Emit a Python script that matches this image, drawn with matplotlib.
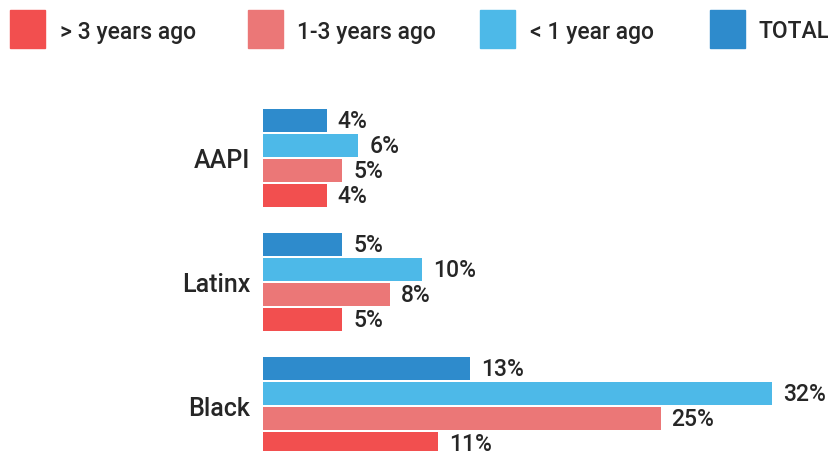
import matplotlib
matplotlib.use("Agg")
import matplotlib.pyplot as plt
from matplotlib.patches import Rectangle
import numpy as np

plt.rcParams["font.family"] = ["Roboto", "DejaVu Sans"]
plt.rcParams["font.weight"] = "medium"

groups = ["AAPI", "Latinx", "Black"]
series = ["TOTAL", "< 1 year ago", "1-3 years ago", "> 3 years ago"]
values = {
    "TOTAL": [4, 5, 13],
    "< 1 year ago": [6, 10, 32],
    "1-3 years ago": [5, 8, 25],
    "> 3 years ago": [4, 5, 11],
}
colors = {
    "TOTAL": "#2E8BCC",
    "< 1 year ago": "#4DB9E8",
    "1-3 years ago": "#EB7777",
    "> 3 years ago": "#F24F4F",
}
legend_order = ["> 3 years ago", "1-3 years ago", "< 1 year ago", "TOTAL"]

W, H = 829, 451
txt = "#262626"
fs = 16.5

fig = plt.figure(figsize=(W / 100, H / 100), dpi=100)
ax = fig.add_axes([263 / W, 0, 1 - 263 / W, 1])

step = 25 / 124
height = 23 / 124
y = np.arange(len(groups))
for k, s in enumerate(series):
    pos = y + (k - 1.5) * step
    bars = ax.barh(pos, values[s], height=height, color=colors[s])
    for b, v in zip(bars, values[s]):
        ax.annotate(f"{v}%", (b.get_width(), b.get_y() + b.get_height() / 2),
                    xytext=(8, -1), textcoords="offset points",
                    va="center", ha="left", fontsize=fs, color=txt,
                    annotation_clip=False)

ax.set_xlim(0, 566 / 15.9)
ax.set_ylim((H - 158) / 124, -158 / 124)
ax.set_yticks(y)
ax.set_yticklabels(groups, fontsize=fs + 1.5, color=txt)
ax.tick_params(axis="y", length=0, pad=9)
ax.set_xticks([])
for sp in ax.spines.values():
    sp.set_visible(False)
ax.patch.set_alpha(0)

# legend across the top
patch_x = [10, 248, 480, 710]
text_x = [60, 297, 530, 759]
for s, px, tx in zip(legend_order, patch_x, text_x):
    fig.add_artist(Rectangle((px / W, 1 - 48 / H), 35 / W, 38 / H,
                             transform=fig.transFigure, color=colors[s]))
    fig.text(tx / W, 1 - 32 / H, s, fontsize=fs, color=txt,
             va="center", ha="left")

fig.savefig("out.png", dpi=100)
